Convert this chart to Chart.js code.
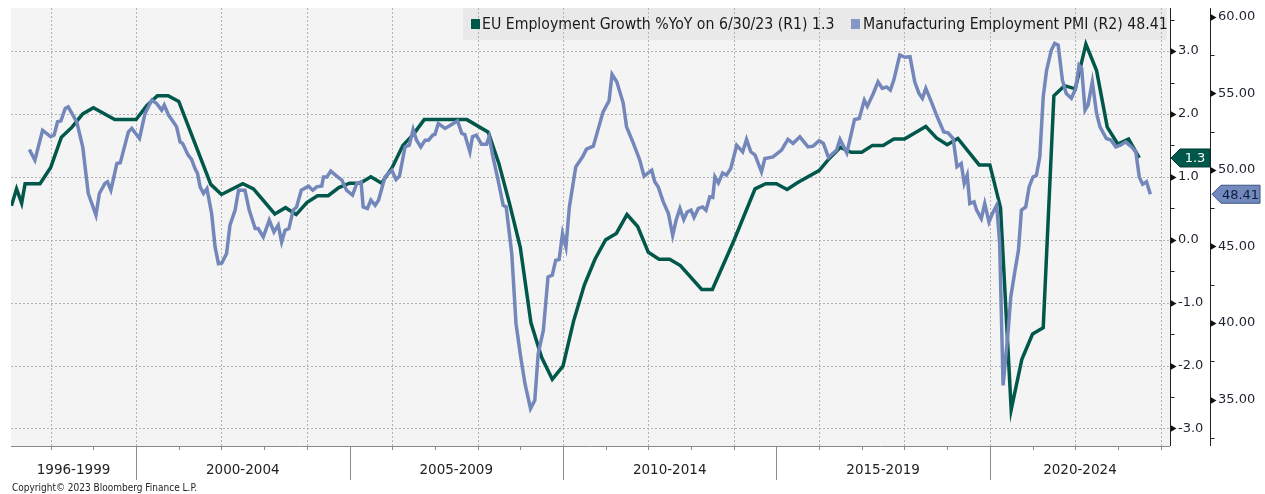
<!DOCTYPE html>
<html>
<head>
<meta charset="utf-8">
<script src="https://cdn.jsdelivr.net/npm/chart.js@4.4.0/dist/chart.umd.min.js"></script>
<style>
  html, body { margin: 0; padding: 0; background: #fff; }
  #wrap { width: 1265px; height: 494px; position: relative; }
</style>
</head>
<body>
<div id="wrap"><canvas id="chart"></canvas></div>
<script>
// EU employment growth %YoY (R1), decimal year of each reading
const euDates = [1997.08, 1997.2, 1997.32, 1997.4, 1997.75, 1998.0, 1998.25, 1998.5, 1998.75, 1999.0,
  1999.5, 2000.0, 2000.25, 2000.5, 2000.75, 2001.0, 2001.75, 2002.0, 2002.5, 2002.75,
  2003.25, 2003.5, 2003.75, 2004.0, 2004.25, 2004.5, 2004.75, 2005.0, 2005.25, 2005.5,
  2005.75, 2006.0, 2006.25, 2006.5, 2006.75, 2007.0, 2007.75, 2008.25, 2008.5, 2008.75,
  2009.0, 2009.25, 2009.5, 2009.75, 2010.0, 2010.25, 2010.5, 2010.75, 2011.0, 2011.25,
  2011.5, 2011.75, 2012.0, 2012.25, 2012.5, 2012.75, 2013.25, 2013.5, 2014.0, 2014.5,
  2014.75, 2015.0, 2015.25, 2015.5, 2016.0, 2016.25, 2016.5, 2016.75, 2017.0, 2017.25,
  2017.5, 2017.75, 2018.0, 2018.5, 2018.75, 2019.0, 2019.25, 2019.75, 2020.0, 2020.25,
  2020.5, 2020.75, 2021.0, 2021.25, 2021.5, 2021.75, 2022.0, 2022.25, 2022.5, 2022.75,
  2023.0, 2023.25, 2023.5];
const euValues = [0.54, 0.81, 0.58, 0.89, 0.89, 1.15, 1.63, 1.79, 2.0, 2.1,
  1.91, 1.91, 2.13, 2.29, 2.29, 2.2, 0.88, 0.72, 0.89, 0.81,
  0.41, 0.51, 0.40, 0.59, 0.70, 0.70, 0.83, 0.90, 0.90, 1.0,
  0.9, 1.15, 1.50, 1.68, 1.91, 1.91, 1.91, 1.71, 1.21, 0.57,
  -0.12, -1.32, -1.87, -2.22, -2.01, -1.29, -0.72, -0.31, 0.0, 0.10,
  0.40, 0.21, -0.20, -0.31, -0.31, -0.41, -0.79, -0.79, -0.02, 0.81,
  0.89, 0.89, 0.80, 0.91, 1.10, 1.30, 1.47, 1.39, 1.39, 1.50,
  1.50, 1.60, 1.60, 1.80, 1.62, 1.51, 1.61, 1.19, 1.19, 0.51,
  -2.70, -1.90, -1.50, -1.40, 2.29, 2.45, 2.40, 3.11, 2.69, 1.79,
  1.52, 1.60, 1.30];

// Manufacturing employment PMI (R2)
const pmiDates = [1997.50, 1997.63, 1997.81, 1998.00, 1998.08, 1998.16, 1998.24, 1998.34, 1998.41, 1998.61,
  1998.75, 1998.88, 1999.06, 1999.14, 1999.27, 1999.33, 1999.41, 1999.55, 1999.63, 1999.82,
  1999.90, 2000.08, 2000.21, 2000.37, 2000.48, 2000.60, 2000.66, 2000.76, 2000.87, 2000.95,
  2001.03, 2001.09, 2001.22, 2001.30, 2001.38, 2001.44, 2001.50, 2001.58, 2001.66, 2001.77,
  2001.85, 2001.93, 2002.01, 2002.12, 2002.20, 2002.32, 2002.40, 2002.55, 2002.65, 2002.79,
  2002.86, 2002.98, 2003.12, 2003.23, 2003.33, 2003.41, 2003.49, 2003.58, 2003.68, 2003.76,
  2003.87, 2004.04, 2004.14, 2004.23, 2004.35, 2004.39, 2004.47, 2004.56, 2004.70, 2004.82,
  2004.93, 2005.07, 2005.17, 2005.27, 2005.32, 2005.42, 2005.50, 2005.60, 2005.68, 2005.83,
  2005.99, 2006.09, 2006.17, 2006.30, 2006.40, 2006.49, 2006.57, 2006.67, 2006.77, 2006.85,
  2006.95, 2007.00, 2007.08, 2007.24, 2007.43, 2007.53, 2007.63, 2007.70, 2007.82, 2007.88,
  2007.97, 2008.09, 2008.21, 2008.27, 2008.36, 2008.48, 2008.60, 2008.67, 2008.80, 2008.90,
  2009.01, 2009.11, 2009.24, 2009.34, 2009.42, 2009.54, 2009.65, 2009.75, 2009.83, 2009.91,
  2009.99, 2010.07, 2010.15, 2010.30, 2010.46, 2010.55, 2010.71, 2010.83, 2010.94, 2011.08,
  2011.15, 2011.26, 2011.41, 2011.49, 2011.65, 2011.80, 2011.90, 2012.08, 2012.15, 2012.23,
  2012.35, 2012.47, 2012.57, 2012.65, 2012.74, 2012.83, 2012.91, 2013.00, 2013.07, 2013.17,
  2013.27, 2013.35, 2013.44, 2013.51, 2013.56, 2013.64, 2013.74, 2013.83, 2013.93, 2014.07,
  2014.21, 2014.30, 2014.40, 2014.50, 2014.65, 2014.73, 2014.92, 2015.12, 2015.27, 2015.39,
  2015.55, 2015.74, 2015.86, 2016.00, 2016.10, 2016.22, 2016.41, 2016.49, 2016.65, 2016.83,
  2016.94, 2017.06, 2017.13, 2017.27, 2017.38, 2017.48, 2017.58, 2017.67, 2017.75, 2017.89,
  2018.01, 2018.13, 2018.24, 2018.34, 2018.42, 2018.50, 2018.63, 2018.75, 2018.92, 2019.02,
  2019.14, 2019.23, 2019.33, 2019.40, 2019.47, 2019.53, 2019.63, 2019.69, 2019.80, 2019.88,
  2019.98, 2020.06, 2020.16, 2020.23, 2020.31, 2020.43, 2020.49, 2020.59, 2020.67, 2020.74,
  2020.84, 2020.92, 2021.01, 2021.09, 2021.17, 2021.25, 2021.33, 2021.44, 2021.52, 2021.60,
  2021.70, 2021.79, 2021.91, 2022.01, 2022.09, 2022.15, 2022.23, 2022.30, 2022.40, 2022.50,
  2022.58, 2022.73, 2022.84, 2022.95, 2023.06, 2023.18, 2023.32, 2023.42, 2023.50, 2023.58,
  2023.67, 2023.76];
const pmiValues = [51.33, 50.63, 52.59, 52.16, 52.27, 53.14, 53.20, 54.01, 54.12, 53.14,
  51.50, 48.46, 47.04, 48.46, 49.11, 49.22, 48.67, 50.42, 50.46, 52.48,
  52.71, 52.05, 53.69, 54.56, 54.34, 53.90, 54.23, 53.58, 53.14, 52.81,
  51.83, 51.73, 50.96, 50.68, 50.09, 49.76, 48.89, 48.46, 48.78, 47.15,
  44.97, 43.88, 43.92, 44.54, 46.39, 47.37, 48.67, 48.67, 47.37, 46.17,
  46.17, 45.62, 46.71, 45.95, 46.39, 45.29, 46.06, 46.17, 47.37, 47.58,
  48.67, 48.93, 48.67, 48.89, 48.95, 49.54, 49.54, 49.92, 49.59, 49.33,
  48.67, 48.35, 49.11, 49.22, 47.58, 47.48, 48.02, 47.69, 48.02, 49.54,
  49.98, 49.37, 49.59, 51.50, 51.61, 52.64, 51.94, 51.50, 51.94, 51.94,
  52.27, 52.31, 53.03, 52.71, 53.03, 53.20, 52.38, 52.31, 51.18, 52.16,
  52.27, 51.68, 51.68, 52.16, 50.85, 49.33, 47.69, 47.58, 44.54, 39.96,
  37.78, 36.04, 34.41, 34.95, 38.00, 39.52, 43.01, 43.12, 44.10, 44.14,
  45.84, 44.97, 47.58, 50.20, 50.85, 51.35, 51.55, 52.71, 53.79, 54.51,
  56.24, 55.75, 54.38, 52.81, 51.73, 50.63, 49.59, 49.98, 49.22, 48.89,
  47.91, 47.15, 45.73, 46.71, 47.48, 46.76, 47.25, 47.37, 46.89, 47.48,
  47.58, 47.37, 48.24, 48.20, 49.54, 49.15, 49.80, 49.65, 50.09, 51.61,
  51.18, 51.99, 51.18, 50.96, 49.87, 50.74, 50.85, 51.29, 51.99, 51.73,
  52.16, 51.50, 51.55, 51.90, 51.73, 50.81, 51.29, 51.99, 51.11, 53.29,
  53.36, 54.56, 54.16, 54.99, 55.75, 55.32, 55.42, 55.21, 55.86, 57.50,
  57.35, 57.39, 55.75, 54.99, 54.67, 55.32, 54.44, 53.58, 52.48, 52.42,
  52.05, 50.20, 50.42, 49.11, 49.65, 47.80, 47.91, 47.37, 46.82, 47.80,
  46.60, 47.15, 47.69, 45.19, 35.93, 39.52, 41.70, 43.44, 44.75, 47.37,
  47.58, 48.89, 49.54, 49.65, 50.85, 54.77, 56.52, 57.82, 58.26, 58.15,
  55.86, 54.99, 54.67, 55.32, 56.84, 56.63, 53.90, 54.23, 55.75, 53.69,
  52.81, 52.05, 51.94, 51.50, 51.61, 51.83, 51.50, 51.18, 49.54, 49.06,
  49.22, 48.41];

// axis labels
const groupLabels = ["1996-1999", "2000-2004", "2005-2009", "2010-2014", "2015-2019", "2020-2024"];
const groupBreaks = [2000, 2005, 2010, 2015, 2020];
const r1Ticks = [-3, -2, -1, 0, 1, 2, 3];
const r2Ticks = [35, 40, 45, 50, 55, 60];

const GREEN = "#00574a";
const BLUE = "#7387ba";
const TICK_FONT = "13px 'DejaVu Sans', sans-serif";

function toPoints(xs, ys) {
  return xs.map((x, i) => ({ x: x, y: ys[i] }));
}

function hline(ctx, x1, x2, y) {
  ctx.beginPath(); ctx.moveTo(x1, y); ctx.lineTo(x2, y); ctx.stroke();
}
function vline(ctx, x, y1, y2) {
  ctx.beginPath(); ctx.moveTo(x, y1); ctx.lineTo(x, y2); ctx.stroke();
}

// value tag with a left pointing arrow, like the Bloomberg last-value markers
function valueTag(ctx, x, y, w, bg, border, fg, text) {
  const h = 18, tip = 9;
  ctx.beginPath();
  ctx.moveTo(x, y);
  ctx.lineTo(x + tip, y - h / 2);
  ctx.lineTo(x + w, y - h / 2);
  ctx.lineTo(x + w, y + h / 2);
  ctx.lineTo(x + tip, y + h / 2);
  ctx.closePath();
  ctx.fillStyle = bg;
  ctx.fill();
  ctx.strokeStyle = border;
  ctx.lineWidth = 1;
  ctx.stroke();
  ctx.fillStyle = fg;
  ctx.font = TICK_FONT;
  ctx.textAlign = "center";
  ctx.textBaseline = "middle";
  ctx.fillText(text, x + tip + (w - tip) / 2, y + 1);
}

// keep the plot flush with the layout padding
function fixedPadding(s) {
  s.paddingTop = 0;
  s.paddingBottom = 0;
  s.paddingLeft = 0;
  s.paddingRight = 0;
}

const decorations = {
  id: "decorations",
  beforeDraw(chart) {
    const { ctx, chartArea: a } = chart;
    ctx.save();
    ctx.fillStyle = "#f4f4f4";
    ctx.fillRect(a.left, a.top, a.right - a.left, a.bottom - a.top);
    // legend box
    ctx.fillStyle = "#e9e9e9";
    ctx.fillRect(463, a.top, 1167 - 463, 32);
    ctx.restore();
  },
  beforeDatasetsDraw(chart) {
    const { ctx, chartArea: a, scales } = chart;
    ctx.save();
    ctx.strokeStyle = "#b3b3b3";
    ctx.lineWidth = 1;
    ctx.setLineDash([2, 2]);
    r1Ticks.forEach(v => {
      const y = Math.round(scales.y1.getPixelForValue(v)) + 0.5;
      hline(ctx, a.left, a.right, y);
    });
    for (let yr = Math.ceil(scales.x.min); yr <= scales.x.max; yr++) {
      if (yr % 2 !== 0) continue;
      const x = Math.round(scales.x.getPixelForValue(yr)) + 0.5;
      vline(ctx, x, a.top, a.bottom);
    }
    ctx.restore();
  },
  afterDraw(chart) {
    const { ctx, chartArea: a, scales } = chart;
    const ds = chart.data.datasets;
    ctx.save();

    // legend
    const legendY = a.top + 16;
    let fs = 17;
    ctx.font = fs + "px 'Liberation Sans Narrow', 'DejaVu Sans Condensed', sans-serif";
    const w1 = ctx.measureText(ds[0].label).width;
    fs = Math.min(19, fs * 352 / w1);
    ctx.font = fs.toFixed(1) + "px 'Liberation Sans Narrow', 'DejaVu Sans Condensed', sans-serif";
    ctx.textAlign = "left";
    ctx.textBaseline = "middle";
    ctx.fillStyle = GREEN;
    ctx.fillRect(471, legendY - 5, 9, 10);
    ctx.fillStyle = "#1a1a1a";
    ctx.fillText(ds[0].label, 482, legendY + 1);
    ctx.fillStyle = "#8597c6";
    ctx.fillRect(851, legendY - 5, 9, 10);
    ctx.fillStyle = "#1a1a1a";
    ctx.fillText(ds[1].label, 863, legendY + 1);

    // bottom axis
    ctx.strokeStyle = "#8a8a8a";
    ctx.lineWidth = 1;
    hline(ctx, a.left, a.right, Math.round(a.bottom) + 0.5);
    for (let yr = Math.ceil(scales.x.min); yr <= scales.x.max; yr++) {
      const x = Math.round(scales.x.getPixelForValue(yr)) + 0.5;
      vline(ctx, x, a.bottom, a.bottom + 4);
    }
    const edges = [a.left].concat(groupBreaks.map(b => scales.x.getPixelForValue(b)), [a.right]);
    groupBreaks.forEach(b => {
      const x = Math.round(scales.x.getPixelForValue(b)) + 0.5;
      vline(ctx, x, a.bottom, a.bottom + 34);
    });
    ctx.fillStyle = "#222";
    ctx.font = "13.5px 'DejaVu Sans', sans-serif";
    ctx.textAlign = "center";
    ctx.textBaseline = "middle";
    groupLabels.forEach((lab, i) => {
      ctx.fillText(lab, (edges[i] + edges[i + 1]) / 2, a.bottom + 24);
    });

    // copyright
    ctx.font = "10px 'DejaVu Sans Condensed', 'DejaVu Sans', sans-serif";
    ctx.textAlign = "left";
    ctx.fillText("Copyright\u00a9 2023 Bloomberg Finance L.P.", 12, 488);

    // right axes: lines and tick marks
    [scales.y1, scales.y2].forEach(s => {
      const x = Math.round(s.left) + 0.5;
      ctx.strokeStyle = "#222";
      ctx.lineWidth = 1;
      vline(ctx, x, a.top, a.bottom);
      const majors = s.id === "y1" ? r1Ticks : r2Ticks;
      s.ticks.forEach(t => {
        const y = Math.round(s.getPixelForValue(t.value)) + 0.5;
        if (majors.includes(t.value)) {
          ctx.fillStyle = "#111";
          ctx.beginPath();
          ctx.moveTo(x, y - 3.5);
          ctx.lineTo(x + 6, y);
          ctx.lineTo(x, y + 3.5);
          ctx.closePath();
          ctx.fill();
        } else {
          hline(ctx, x, x + 4, y);
        }
      });
    });

    // last value tags
    const lastEu = euValues[euValues.length - 1];
    const lastPmi = pmiValues[pmiValues.length - 1];
    valueTag(ctx, scales.y1.left + 1, scales.y1.getPixelForValue(lastEu), 39, GREEN, "#003d33", "#ffffff", lastEu.toFixed(1));
    valueTag(ctx, scales.y2.left + 2, scales.y2.getPixelForValue(lastPmi), 48, "#7189bd", "#3f5283", "#101c3c", lastPmi.toFixed(2));

    ctx.restore();
  }
};

new Chart(document.getElementById("chart"), {
  type: "line",
  data: {
    datasets: [
      {
        label: "EU Employment Growth %YoY on 6/30/23 (R1) " + euValues[euValues.length - 1].toFixed(1),
        data: toPoints(euDates, euValues),
        yAxisID: "y1",
        borderColor: GREEN,
        borderWidth: 3.5,
        pointRadius: 0,
        order: 1
      },
      {
        label: "Manufacturing Employment PMI (R2) " + pmiValues[pmiValues.length - 1].toFixed(2),
        data: toPoints(pmiDates, pmiValues),
        yAxisID: "y2",
        borderColor: BLUE,
        borderWidth: 3.5,
        pointRadius: 0,
        order: 0
      }
    ]
  },
  options: {
    responsive: true,
    maintainAspectRatio: false,
    animation: false,
    layout: { padding: { left: 11, top: 8, right: 0, bottom: 0 } },
    plugins: {
      legend: { display: false },
      tooltip: { enabled: false }
    },
    scales: {
      x: {
        type: "linear",
        min: 1997.07,
        max: 2024.22,
        ticks: { display: false },
        grid: { display: false, drawTicks: false },
        border: { display: false },
        afterFit: s => { fixedPadding(s); s.height = 48; }
      },
      y1: {
        position: "right",
        min: -3.28,
        max: 3.685,
        grid: { display: false, drawTicks: false },
        border: { display: false },
        afterBuildTicks: s => {
          const t = [];
          r1Ticks.forEach(v => { t.push({ value: v }); t.push({ value: v + 0.5 }); });
          s.ticks = t.filter(o => o.value >= s.min && o.value <= s.max).sort((p, q) => p.value - q.value);
        },
        ticks: {
          autoSkip: false,
          padding: 8,
          color: "#1e2330",
          font: { family: "'DejaVu Sans', sans-serif", size: 13 },
          callback: v => (r1Ticks.includes(v) ? v.toFixed(1) : "")
        },
        afterFit: s => { fixedPadding(s); s.width = 40; }
      },
      y2: {
        position: "right",
        min: 31.97,
        max: 60.57,
        grid: { display: false, drawTicks: false },
        border: { display: false },
        afterBuildTicks: s => {
          const t = [];
          r2Ticks.forEach(v => { t.push({ value: v }); t.push({ value: v - 2.5 }); });
          s.ticks = t.filter(o => o.value >= s.min && o.value <= s.max).sort((p, q) => p.value - q.value);
        },
        ticks: {
          autoSkip: false,
          padding: 8,
          color: "#1e2330",
          font: { family: "'DejaVu Sans', sans-serif", size: 13 },
          callback: v => (r2Ticks.includes(v) ? v.toFixed(2) : "")
        },
        afterFit: s => { fixedPadding(s); s.width = 55; }
      }
    }
  },
  plugins: [decorations]
});
</script>
</body>
</html>
